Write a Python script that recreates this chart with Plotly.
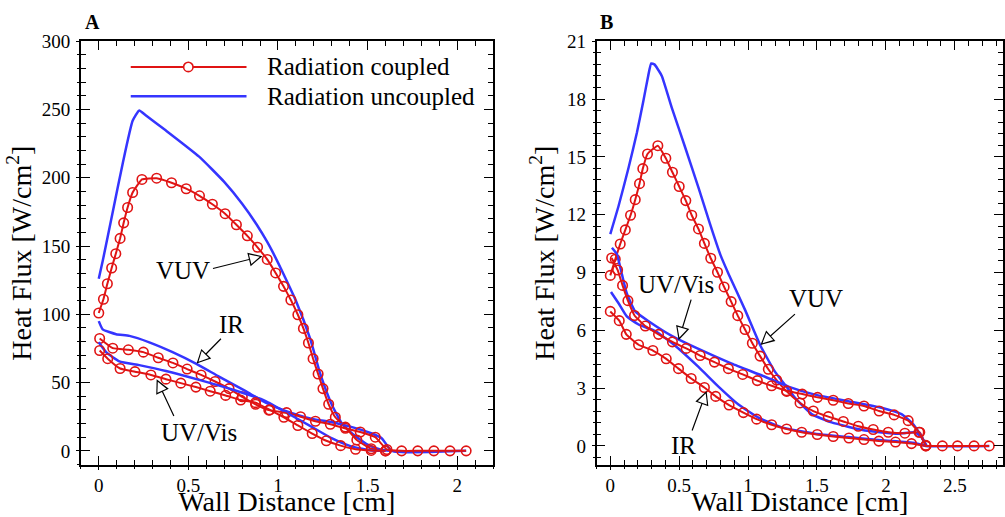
import plotly.graph_objects as go

# ---------------- Panel A data (Wall distance [cm], heat flux [W/cm^2]) ----------------
a_vuv_cpl_x = [0.0, 0.026, 0.048, 0.072, 0.095, 0.119, 0.139, 0.161, 0.189, 0.241, 0.323, 0.406, 0.488,
               0.562, 0.634, 0.705, 0.768, 0.829, 0.886, 0.940, 0.987, 1.031, 1.072, 1.111, 1.142, 1.170,
               1.196, 1.224, 1.251, 1.283, 1.320, 1.376, 1.44, 1.52, 1.60]
a_vuv_cpl_y = [101, 111, 122.4, 133.9, 144.4, 155.6, 167, 178.2, 189.2, 198.8, 199.7, 196.4, 192,
               186.8, 180.6, 173.7, 165.6, 157.5, 149.1, 140.2, 130.3, 120.5, 110.5, 99.7, 89.7, 79,
               67.5, 56.3, 45.6, 34.1, 24.6, 17.4, 8, 1.5, 0]
a_vuv_unc_x = [0.0, 0.022, 0.078, 0.134, 0.189, 0.226, 0.26, 0.375, 0.56, 0.70, 0.80, 0.88, 0.94,
               0.996, 1.04, 1.10, 1.18, 1.237, 1.30, 1.357, 1.42, 1.50, 1.57, 1.63]
a_vuv_unc_y = [126, 139, 175, 210.7, 241.7, 249.3, 246, 234.6, 215.5, 197, 181, 166, 153,
               139, 127, 110, 82, 56, 34, 20, 12, 4.5, 1, 0]
a_ir_cpl_x = [0.005, 0.078, 0.165, 0.249, 0.332, 0.414, 0.493, 0.571, 0.649, 0.727, 0.801, 0.875, 0.949,
              1.048, 1.126, 1.209, 1.292, 1.376, 1.459, 1.543, 1.608, 1.69, 1.78, 1.87, 1.96, 2.05]
a_ir_cpl_y = [82.3, 75.2, 74, 72.3, 68.2, 64.4, 59.9, 55.6, 50.8, 45.6, 39.6, 34.1, 29.8,
              28, 25, 21.7, 19.5, 16.5, 13.8, 10, 1, 0, 0, 0, 0, 0]
a_ir_unc_x = [0.0, 0.022, 0.097, 0.171, 0.282, 0.412, 0.542, 0.671, 0.82, 0.931, 1.042, 1.191, 1.302,
              1.413, 1.524, 1.58, 1.635, 2.05]
a_ir_unc_y = [95, 89, 85.4, 84.2, 79.5, 72.3, 63.9, 54.4, 43.7, 35.3, 29.3, 23.4, 21,
              17.4, 12.7, 9.1, 0, 0]
a_uv_cpl_x = [0.005, 0.05, 0.119, 0.202, 0.291, 0.375, 0.458, 0.542, 0.622, 0.708, 0.792, 0.875, 0.955,
              1.033, 1.111, 1.191, 1.27, 1.35, 1.433, 1.52, 1.6]
a_uv_cpl_y = [73.5, 67.5, 60.3, 58, 55.6, 52.5, 49.6, 46.7, 43.7, 40.6, 37.2, 35.3, 30,
              24.6, 18.6, 12.7, 7.4, 3.8, 1.2, 0.3, 0]
a_uv_unc_x = [0.0, 0.041, 0.115, 0.226, 0.375, 0.56, 0.745, 0.931, 1.061, 1.191, 1.302, 1.413, 1.524, 1.6]
a_uv_unc_y = [79.5, 72.3, 65.6, 62.8, 58.5, 52, 44.9, 36.5, 27, 17.4, 9.1, 3.1, 0.3, 0]

# ---------------- Panel B data ----------------
b_vuv_cpl_x = [0.0, 0.036, 0.072, 0.109, 0.147, 0.181, 0.212, 0.236, 0.27, 0.345, 0.403, 0.451, 0.5,
               0.548, 0.591, 0.64, 0.683, 0.729, 0.778, 0.826, 0.877, 0.925, 0.978, 1.031, 1.087, 1.147,
               1.207, 1.28, 1.377, 1.473, 1.582, 1.691, 1.8, 1.908, 2.017, 2.138, 2.246, 2.29]
b_vuv_cpl_y = [8.85, 9.69, 10.48, 11.21, 11.97, 12.78, 13.61, 14.39, 15.15, 15.58, 14.93, 14.2, 13.46,
               12.73, 11.97, 11.26, 10.51, 9.74, 9.01, 8.25, 7.49, 6.76, 6.04, 5.33, 4.66, 3.98,
               3.42, 2.83, 2.23, 1.81, 1.52, 1.27, 1.02, 0.85, 0.71, 0.66, 0.71, 0.03]
b_vuv_unc_x = [0.0, 0.06, 0.133, 0.193, 0.24, 0.275, 0.297, 0.32, 0.345, 0.374, 0.446, 0.543, 0.64, 0.72,
               0.80, 0.86, 0.978, 1.09, 1.196, 1.268, 1.341, 1.461, 1.606, 1.848, 2.089, 2.21, 2.258, 2.294]
b_vuv_unc_y = [10.99, 12.45, 14.45, 16.25, 17.9, 19.2, 19.85, 19.8, 19.55, 19.2, 17.56, 15.5, 13.4, 11.6,
               9.9, 8.9, 7.06, 5.2, 3.84, 3.17, 2.49, 1.65, 1.22, 0.8, 0.63, 0.71, 0.46, 0.03]
b_uv_cpl_x = [0.01, 0.053, 0.089, 0.128, 0.176, 0.254, 0.35, 0.451, 0.551, 0.652, 0.756, 0.857, 0.961,
              1.067, 1.171, 1.28, 1.393, 1.504, 1.618, 1.727, 1.841, 1.951, 2.06, 2.162, 2.24, 2.29]
b_uv_cpl_y = [9.75, 9.13, 8.33, 7.54, 6.77, 6.22, 5.79, 5.4, 5.06, 4.69, 4.35, 4.01, 3.71,
              3.39, 3.12, 2.86, 2.69, 2.52, 2.37, 2.2, 2.07, 1.81, 1.61, 1.31, 0.71, 0.0]
b_uv_unc_x = [0.012, 0.048, 0.084, 0.12, 0.181, 0.278, 0.446, 0.64, 0.881, 1.123, 1.292, 1.486, 1.727,
              1.968, 2.113, 2.186, 2.246, 2.29]
b_uv_unc_y = [10.28, 9.94, 8.92, 7.91, 6.98, 6.47, 5.71, 5.03, 4.27, 3.59, 3.08, 2.66, 2.32,
              1.98, 1.65, 1.22, 0.63, 0.03]
b_ir_cpl_x = [0.0, 0.065, 0.116, 0.205, 0.309, 0.406, 0.495, 0.587, 0.683, 0.765, 0.862, 0.966, 1.062,
              1.171, 1.28, 1.389, 1.502, 1.618, 1.732, 1.841, 1.949, 2.07, 2.186, 2.29, 2.41, 2.52,
              2.64, 2.75]
b_ir_cpl_y = [6.98, 6.5, 5.79, 5.25, 4.95, 4.52, 4.01, 3.5, 3.03, 2.57, 2.12, 1.73, 1.39,
              1.1, 0.88, 0.71, 0.59, 0.49, 0.41, 0.33, 0.25, 0.2, 0.12, 0, 0, 0, 0, 0]
b_ir_unc_x = [0.005, 0.06, 0.12, 0.205, 0.326, 0.471, 0.64, 0.785, 0.93, 1.075, 1.243, 1.486, 1.727,
              1.968, 2.21, 2.29, 2.75]
b_ir_unc_y = [7.99, 7.4, 6.72, 6.3, 5.96, 5.2, 4.1, 3.08, 2.15, 1.47, 0.96, 0.63, 0.46,
              0.29, 0.15, 0, 0]

legend_names = ["Radiation coupled", "Radiation uncoupled"]
panel_labels = ["A", "B"]
x_title = "Wall Distance [cm]"
y_title = "Heat Flux [W/cm<sup>2</sup>]"

# labels: (text, x, y) in data coords ; arrows: (tail_x, tail_y, tip_x, tip_y)
a_labels = [("VUV", 0.468, 132.1), ("IR", 0.743, 92.9), ("UV/Vis", 0.562, 13.8)]
a_arrows = [(0.629, 133.3, 0.913, 142.6), (0.690, 83.2, 0.546, 63.9), (0.423, 24.5, 0.323, 52.4)]
b_labels = [("UV/Vis", 0.478, 8.38), ("VUV", 1.496, 7.67), ("IR", 0.532, 0.02)]
b_arrows = [(0.590, 7.67, 0.496, 5.49), (1.351, 6.91, 1.090, 5.24), (0.590, 0.72, 0.699, 2.85)]

RED = "#e01414"
BLUE = "#3535ff"
FONT = "Liberation Serif"
W, H = 1005, 517

A_DX = [81 / W, 494 / W]
B_DX = [597.7 / W, 1.0]
DY = [1 - 466 / H, 1 - 32 / H]
A_XR, A_YR = [-0.1, 2.2], [-10.5, 300]
B_XR, B_YR = [-0.1, 2.85], [-1, 21]

fig = go.Figure()


def add_pair(cx, cy, ux, uy, xa, ya):
    fig.add_trace(go.Scatter(x=ux, y=uy, mode="lines", xaxis=xa, yaxis=ya, showlegend=False,
                             line=dict(color=BLUE, width=2.5, shape="spline", smoothing=0.45)))
    fig.add_trace(go.Scatter(x=cx, y=cy, mode="lines+markers", xaxis=xa, yaxis=ya, showlegend=False,
                             line=dict(color=RED, width=2, shape="spline", smoothing=0.35),
                             marker=dict(symbol="circle-open", size=9.5, color=RED, line=dict(width=1.6))))


add_pair(a_vuv_cpl_x, a_vuv_cpl_y, a_vuv_unc_x, a_vuv_unc_y, "x", "y")
add_pair(a_ir_cpl_x, a_ir_cpl_y, a_ir_unc_x, a_ir_unc_y, "x", "y")
add_pair(a_uv_cpl_x, a_uv_cpl_y, a_uv_unc_x, a_uv_unc_y, "x", "y")
add_pair(b_vuv_cpl_x, b_vuv_cpl_y, b_vuv_unc_x, b_vuv_unc_y, "x2", "y2")
add_pair(b_ir_cpl_x, b_ir_cpl_y, b_ir_unc_x, b_ir_unc_y, "x2", "y2")
add_pair(b_uv_cpl_x, b_uv_cpl_y, b_uv_unc_x, b_uv_unc_y, "x2", "y2")

# dummy traces so the overlay (outer tick) axes exist
for xa, ya in [("x3", "y"), ("x", "y3"), ("x4", "y2"), ("x2", "y4")]:
    fig.add_trace(go.Scatter(x=[None], y=[None], xaxis=xa, yaxis=ya, showlegend=False, hoverinfo="skip"))

tickfont = dict(family=FONT, size=19, color="black")
titlefont = dict(family=FONT, size=28, color="black")


def main_axis(domain, rng, dtick, mdtick, title, anchor, standoff, lblstand):
    return dict(domain=domain, range=rng, anchor=anchor, showline=True, linecolor="black", linewidth=1.5,
                mirror="ticks", ticks="inside", ticklen=9, tickwidth=1.2, tickcolor="black",
                dtick=dtick, tick0=0, showgrid=False, zeroline=False, tickfont=tickfont,
                ticklabelstandoff=lblstand,
                minor=dict(ticks="inside", ticklen=5, dtick=mdtick, tick0=0, tickcolor="black", tickwidth=1),
                title=dict(text=title, font=titlefont, standoff=standoff))


def outer_axis(over, anchor, rng, dtick, mdtick, side):
    return dict(overlaying=over, anchor=anchor, range=rng, side=side, showline=False, showgrid=False,
                zeroline=False, showticklabels=False, ticks="outside", ticklen=4, tickwidth=1.2,
                tickcolor="black", dtick=dtick, tick0=0,
                minor=dict(ticks="outside", ticklen=3, dtick=mdtick, tick0=0, tickcolor="black", tickwidth=1))


fig.update_layout(
    width=W, height=H, margin=dict(l=0, r=0, t=0, b=0),
    paper_bgcolor="white", plot_bgcolor="white",
    xaxis=main_axis(A_DX, A_XR, 0.5, 0.1, x_title, "y", 2, 2),
    yaxis=main_axis(DY, A_YR, 50, 10, y_title, "x", 2, 5),
    xaxis2=main_axis(B_DX, B_XR, 0.5, 0.1, x_title, "y2", 2, 2),
    yaxis2=main_axis(DY, B_YR, 3, 0.6, y_title, "x2", 4, 5),
    xaxis3=outer_axis("x", "y", A_XR, 0.5, 0.1, "bottom"),
    yaxis3=outer_axis("y", "x", A_YR, 50, 10, "left"),
    xaxis4=outer_axis("x2", "y2", B_XR, 0.5, 0.1, "bottom"),
    yaxis4=outer_axis("y2", "x2", B_YR, 3, 0.6, "left"),
)

ann = []
# panel letters
for lbl, px in zip(panel_labels, [83, 599]):
    ann.append(dict(text="<b>" + lbl + "</b>", x=px / W, y=1 - 26 / H, xref="paper", yref="paper",
                    xanchor="left", yanchor="bottom", showarrow=False,
                    font=dict(family=FONT, size=20, color="black")))

lblfont = dict(family=FONT, size=25, color="black")


def add_labels(labels, arrows, xr, yr, xd, rngx, rngy):
    for t, x, y in labels:
        ann.append(dict(text=t, x=x, y=y, xref=xr, yref=yr, showarrow=False, font=lblfont,
                        xanchor="center", yanchor="middle"))
    sx = (xd[1] - xd[0]) * W / (rngx[1] - rngx[0])
    sy = (DY[1] - DY[0]) * H / (rngy[1] - rngy[0])
    for tx, ty, px, py in arrows:
        ann.append(dict(text="", x=px, y=py, ax=tx, ay=ty, xref=xr, yref=yr, axref=xr, ayref=yr,
                        showarrow=True, arrowhead=2, arrowsize=2.3, arrowwidth=1.2, arrowcolor="black"))
        dxp = (tx - px) * sx
        dyp = -(ty - py) * sy
        n = (dxp ** 2 + dyp ** 2) ** 0.5
        # white inner head -> hollow arrowhead look
        ann.append(dict(text="", x=px, y=py, ax=dxp / n * 13.5, ay=dyp / n * 13.5, xref=xr, yref=yr,
                        showarrow=True, arrowhead=2, arrowsize=3.96, arrowwidth=0.5, arrowcolor="white",
                        standoff=2.7))


add_labels(a_labels, a_arrows, "x", "y", A_DX, A_XR, A_YR)
add_labels(b_labels, b_arrows, "x2", "y2", B_DX, B_XR, B_YR)

# custom legend (long line samples as in the original)
legfont = dict(family=FONT, size=25, color="black")
shapes = []
for i, (name, col) in enumerate(zip(legend_names, [RED, BLUE])):
    yy = 1 - (58.3 + 30 * i) / H
    shapes.append(dict(type="line", xref="paper", yref="paper", x0=131 / W, x1=247 / W, y0=yy, y1=yy,
                       line=dict(color=col, width=2 if i == 0 else 2.5)))
    ann.append(dict(text=name, x=266 / W, y=yy, xref="paper", yref="paper", xanchor="left",
                    yanchor="middle", showarrow=False, font=legfont))
shapes.append(dict(type="circle", xref="paper", yref="paper", xsizemode="pixel", ysizemode="pixel",
                   xanchor=188.7 / W, yanchor=1 - 58.3 / H, x0=-4.7, x1=4.7, y0=-4.7, y1=4.7,
                   line=dict(color=RED, width=1.6), fillcolor="white"))

fig.update_layout(annotations=ann, shapes=shapes)
fig.write_html("out.html")
